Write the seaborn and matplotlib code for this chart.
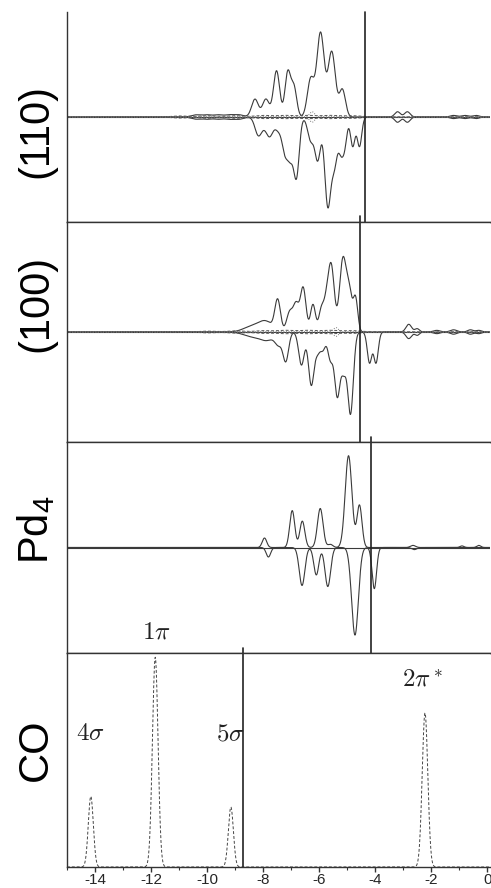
"""Spin-resolved d-DOS of CO on Pd(110), Pd(100), Pd4 and free CO orbitals."""

import matplotlib

matplotlib.use("Agg")
import matplotlib.pyplot as plt
import numpy as np
import seaborn as sns

# ---- data: levels (eV), heights (fraction of half panel), broadening (eV) ----
# Pd(110)
pd110_up_e = [-10.4, -10.0, -9.6, -9.2, -8.85, -8.29, -7.90, -7.52, -7.12, -6.90,
              -6.30, -5.95, -5.55, -5.17, -3.2, -2.85, -1.2, -0.8, -0.4]
pd110_up_h = [0.02, 0.02, 0.02, 0.02, 0.02, 0.17, 0.17, 0.44, 0.42, 0.28,
              0.36, 0.80, 0.62, 0.26, 0.05, 0.05, 0.015, 0.015, 0.015]
pd110_up_w = [0.16, 0.16, 0.16, 0.16, 0.16, 0.12, 0.12, 0.11, 0.10, 0.10,
              0.12, 0.13, 0.13, 0.11, 0.1, 0.1, 0.12, 0.12, 0.12]
pd110_dn_e = [-10.4, -10.0, -9.6, -9.2, -8.85, -8.17, -7.95, -7.76, -7.45, -7.22,
              -7.03, -6.81, -6.30, -6.05, -5.69, -5.45, -5.22, -5.08, -4.80, -4.56,
              -3.2, -2.85, -1.2, -0.8, -0.4]
pd110_dn_h = [0.02, 0.02, 0.02, 0.02, 0.02, 0.17, 0.05, 0.17, 0.12, 0.30,
              0.34, 0.56, 0.22, 0.40, 0.84, 0.42, 0.30, 0.22, 0.28, 0.28,
              0.05, 0.05, 0.015, 0.015, 0.015]
pd110_dn_w = [0.16, 0.16, 0.16, 0.16, 0.16, 0.12, 0.12, 0.12, 0.12, 0.10,
              0.10, 0.10, 0.11, 0.10, 0.11, 0.10, 0.09, 0.08, 0.08, 0.08,
              0.1, 0.1, 0.12, 0.12, 0.12]
pd110_p_e = [-11.0, -10.0, -9.0, -8.0, -7.2, -6.4, -5.6, -4.8]
pd110_p_h = [0.01, 0.012, 0.012, 0.015, 0.015, 0.015, 0.015, 0.012]
pd110_dot_e = [-6.25]
pd110_dot_h = [0.05]
pd110_fermi = -4.36

# Pd(100)
pd100_up_e = [-8.4, -7.9, -7.48, -7.05, -6.82, -6.57, -6.22, -5.92, -5.75, -5.57,
              -5.15, -4.92, -4.70, -2.8, -2.5, -1.8, -1.2, -0.6, -0.3]
pd100_up_h = [0.05, 0.09, 0.28, 0.18, 0.24, 0.40, 0.25, 0.20, 0.20, 0.60,
              0.66, 0.33, 0.30, 0.07, 0.03, 0.015, 0.02, 0.02, 0.015]
pd100_up_w = [0.30, 0.25, 0.10, 0.11, 0.10, 0.10, 0.09, 0.09, 0.09, 0.11,
              0.12, 0.10, 0.08, 0.1, 0.08, 0.12, 0.12, 0.1, 0.1]
pd100_dn_e = [-8.4, -7.85, -7.45, -7.19, -6.63, -6.28, -6.05, -5.86, -5.60, -5.35,
              -5.12, -4.88, -4.20, -3.97, -2.8, -2.5, -1.8, -1.2, -0.6, -0.3]
pd100_dn_h = [0.04, 0.07, 0.10, 0.26, 0.30, 0.48, 0.16, 0.15, 0.24, 0.58,
              0.32, 0.74, 0.28, 0.28, 0.06, 0.03, 0.015, 0.02, 0.02, 0.015]
pd100_dn_w = [0.30, 0.25, 0.12, 0.10, 0.10, 0.10, 0.09, 0.09, 0.09, 0.10,
              0.09, 0.10, 0.08, 0.08, 0.1, 0.08, 0.12, 0.12, 0.1, 0.1]
pd100_p_e = [-10.0, -9.0, -8.0, -7.2, -6.4, -5.6, -4.8]
pd100_p_h = [0.008, 0.01, 0.012, 0.015, 0.015, 0.015, 0.012]
pd100_dot_e = [-5.40]
pd100_dot_h = [0.04]
pd100_fermi = -4.55

# Pd4 cluster
pd4_up_e = [-7.95, -6.96, -6.60, -5.96, -5.60, -4.95, -4.56, -2.65, -0.9, -0.3]
pd4_up_h = [0.09, 0.35, 0.25, 0.37, 0.03, 0.87, 0.40, 0.02, 0.015, 0.02]
pd4_up_w = [0.08, 0.09, 0.09, 0.10, 0.09, 0.12, 0.09, 0.09, 0.07, 0.07]
pd4_dn_e = [-7.81, -6.61, -6.10, -5.69, -4.72, -4.03, -2.6]
pd4_dn_h = [0.09, 0.36, 0.26, 0.37, 0.83, 0.39, 0.02]
pd4_dn_w = [0.08, 0.10, 0.09, 0.10, 0.12, 0.08, 0.09]
pd4_fermi = -4.15

# free CO molecular orbitals
co_orbital = ["4\\sigma", "1\\pi", "5\\sigma", "2\\pi^*"]
co_e = [-14.15, -11.85, -9.15, -2.22]
co_h = [0.33, 0.98, 0.28, 0.72]
co_w = [0.09, 0.10, 0.09, 0.10]
co_fermi = -8.72

panel_names = ["(110)", "(100)", "Pd$_4$", "CO"]


def broaden(grid, centers, heights, widths):
    c = np.asarray(centers)[:, None]
    h = np.asarray(heights)[:, None]
    w = np.asarray(widths)[:, None]
    return (h * np.exp(-0.5 * ((grid[None, :] - c) / w) ** 2)).sum(axis=0)


sns.set_theme(style="white")
plt.rcParams["font.family"] = ["Liberation Sans", "DejaVu Sans"]
plt.rcParams["axes.unicode_minus"] = False
plt.rcParams["mathtext.fontset"] = "custom"
plt.rcParams["mathtext.rm"] = "Liberation Sans"
plt.rcParams["mathtext.it"] = "Liberation Sans:italic"

W, H = 491, 888
fig = plt.figure(figsize=(W / 100, H / 100), dpi=100)
left, right = 67 / W, 490 / W
rows = [(12, 222), (222, 442), (442, 653), (653, 867)]
axes = [fig.add_axes([left, 1 - b / H, right - left, (b - t) / H]) for t, b in rows]

grid = np.linspace(-15, 0.1, 3021)
line_kw = dict(color="#3a3a3a", linewidth=0.8, estimator=None, sort=False, legend=False)

spin_panels = [
    (pd110_up_e, pd110_up_h, pd110_up_w, pd110_dn_e, pd110_dn_h, pd110_dn_w,
     pd110_p_e, pd110_p_h, pd110_dot_e, pd110_dot_h, pd110_fermi),
    (pd100_up_e, pd100_up_h, pd100_up_w, pd100_dn_e, pd100_dn_h, pd100_dn_w,
     pd100_p_e, pd100_p_h, pd100_dot_e, pd100_dot_h, pd100_fermi),
    (pd4_up_e, pd4_up_h, pd4_up_w, pd4_dn_e, pd4_dn_h, pd4_dn_w,
     [], [], [], [], pd4_fermi),
]

for i, (ue, uh, uw, de, dh, dw, pe, ph, te, th, ef) in enumerate(spin_panels):
    ax = axes[i]
    ax.axhline(0, color="#3a3a3a", linewidth=0.8)
    up = broaden(grid, ue, uh, uw)
    dn = -broaden(grid, de, dh, dw)
    sns.lineplot(x=grid, y=up, ax=ax, **line_kw)
    sns.lineplot(x=grid, y=dn, ax=ax, **line_kw)
    if pe:
        p = broaden(grid, pe, ph, [0.3] * len(pe))
        ax.plot(grid, p, color="#555555", lw=0.7, ls=(0, (3, 2)))
        ax.plot(grid, -p, color="#555555", lw=0.7, ls=(0, (3, 2)))
    if te:
        d = broaden(grid, te, th, [0.09] * len(te))
        ax.plot(grid, d, color="#777777", lw=0.7, ls=":")
        ax.plot(grid, -d, color="#777777", lw=0.7, ls=":")
    ax.set_ylim(-1, 1)
    top = 1.0 if i == 0 else 1.025
    ax.axvline(ef, ymin=0, ymax=top, color="#222222", linewidth=1.2, clip_on=False)

# CO panel
ax = axes[3]
co = broaden(grid, co_e, co_h, co_w)
ax.plot(grid, co, color="#444444", lw=0.7, ls=(0, (3, 2)))
ax.set_ylim(0, 1.0)
ax.axvline(co_fermi, ymin=0, ymax=1.025, color="#222222", linewidth=1.2, clip_on=False)

for ax in axes:
    ax.set_xlim(-15, 0.1)
    ax.set_yticks([])
    ax.set_ylabel("")
    ax.spines["right"].set_visible(False)
    for s in ("left", "bottom", "top"):
        ax.spines[s].set_color("#333333")
        ax.spines[s].set_linewidth(1.0)
    ax.tick_params(axis="x", which="both", bottom=False, labelbottom=False)
axes[0].spines["top"].set_visible(False)

ax = axes[3]
ax.set_xticks(np.arange(-14, 1, 2))
ax.set_xticks(np.arange(-15, 1, 1), minor=True)
ax.set_xticklabels([f"{v:d}" for v in range(-14, 1, 2)])
ax.tick_params(axis="x", which="major", bottom=True, labelbottom=True, direction="out",
               length=3.5, width=1, color="#333333", labelsize=11, pad=0.5)
ax.tick_params(axis="x", which="minor", bottom=True, direction="out", length=2.5,
               width=0.8, color="#333333")

# orbital labels
math_kw = dict(fontsize=18, math_fontfamily="cm", ha="center", va="center", color="#222222")
label_pos = [(-14.17, 0.625, 3), (-11.8, 0.10, 2), (-9.16, 0.625, 3), (-2.3, 0.875, 3)]
for name, (x, y, k) in zip(co_orbital, label_pos):
    axes[k].text(x, y, f"${name}$", transform=axes[k].get_xaxis_transform(), **math_kw)

# panel names
name_y = [131, 303, 530, 750]
for name, y in zip(panel_names, name_y):
    fig.text(36 / W, 1 - y / H, name, rotation=90, ha="center", va="center",
             fontsize=30, color="black", math_fontfamily="custom")

fig.savefig("out.png", dpi=100)
